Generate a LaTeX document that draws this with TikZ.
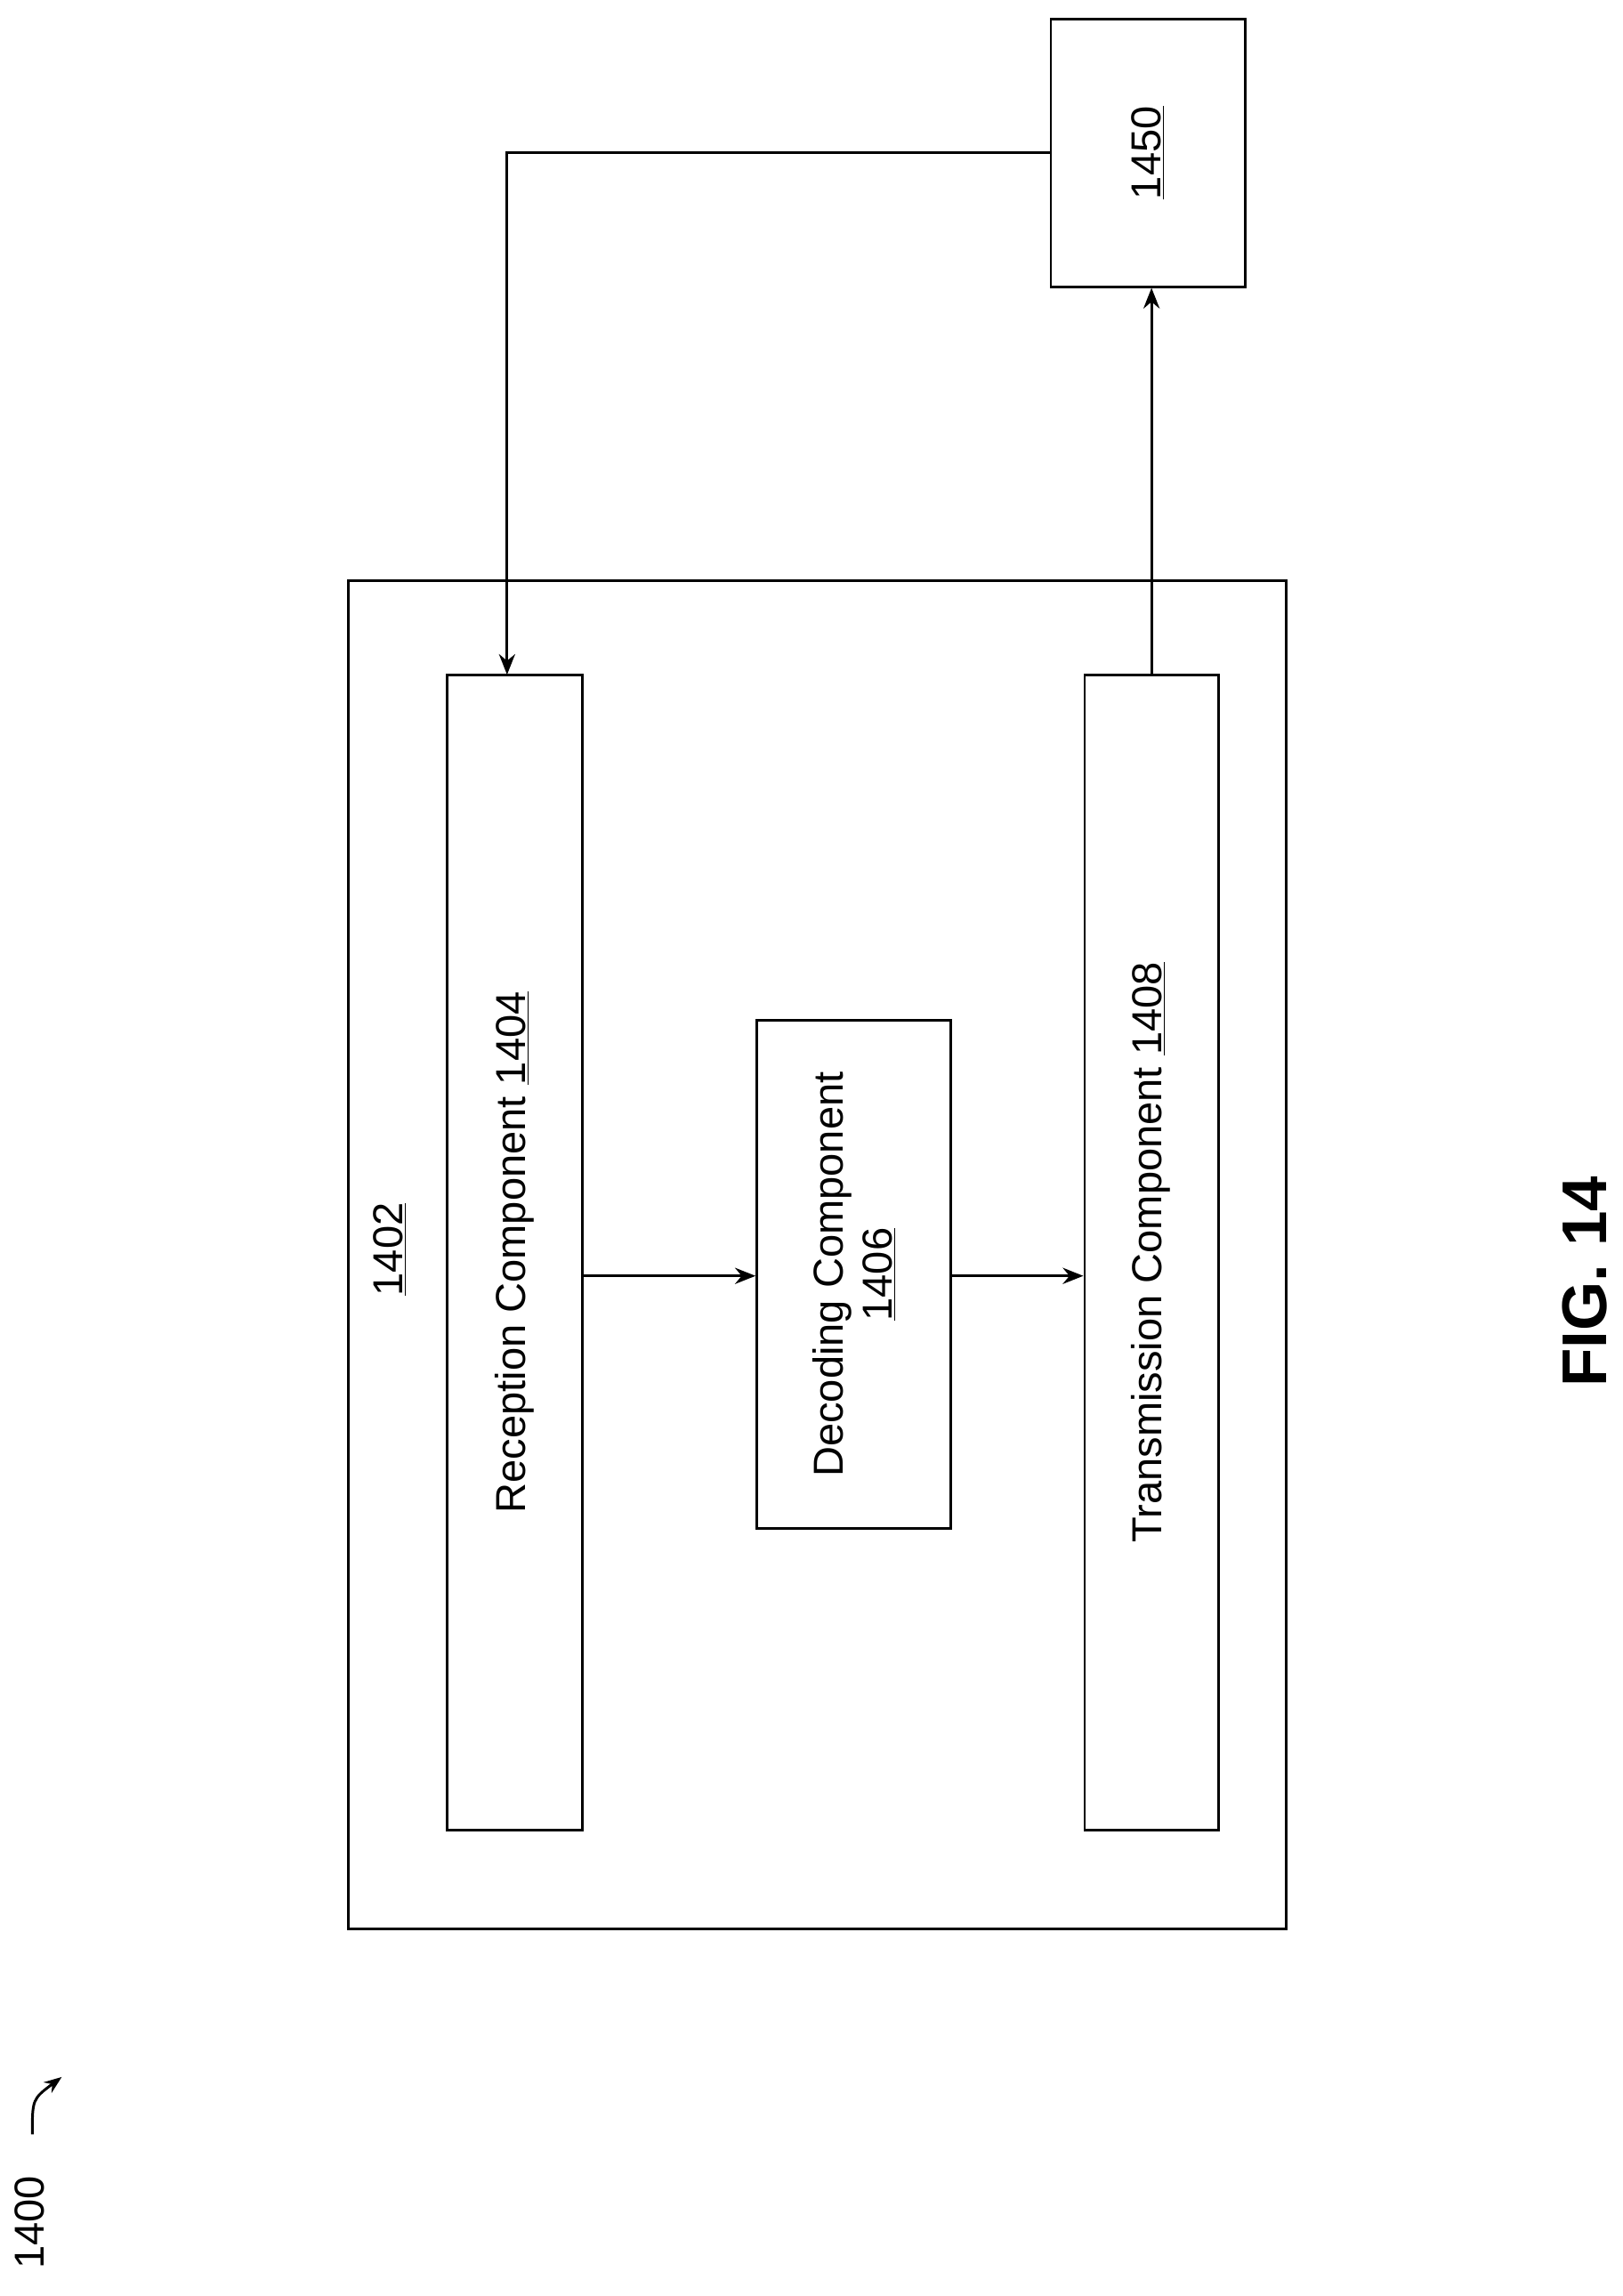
\documentclass[tikz,border=0pt]{standalone}
\usepackage{fontspec}
\setmainfont{Liberation Sans}
\usetikzlibrary{arrows.meta}
\begin{document}
\begin{tikzpicture}[x=1pt,y=-1pt,
 box/.style={draw,line width=1.8pt,inner sep=0},
 lbl/.style={rotate=90,font=\fontsize{28.5}{33}\selectfont},
 arr/.style={line width=1.8pt,-{Stealth[length=14pt,width=11pt]}}]
\useasboundingbox (0,0) rectangle (1104,1562);
\draw[box] (237,395) rectangle (875,1312);
\node[box,minimum width=92pt,minimum height=786pt] (rec) at (350,852) {};
\node[box,minimum width=132pt,minimum height=346pt] (dec) at (581,867) {};
\node[box,minimum width=91pt,minimum height=786pt] (tra) at (783.5,852) {};
\node[box,minimum width=132pt,minimum height=182pt] (ext) at (781,104) {};
\node[lbl] (l1402) at (265,850) {\underline{1402}};
\node[lbl] (lrec) at (350,852) {Reception Component \underline{1404}};
\node[lbl,align=center] (ldec) at (581,867) {Decoding Component\\\underline{1406}};
\node[lbl] (ltra) at (783,852) {Transmission Component \underline{1408}};
\node[lbl] (lext) at (781,104) {\underline{1450}};
\node[rotate=90,font=\bfseries\fontsize{43}{50}\selectfont] (fig) at (1078,872) {FIG. 14};
\node[lbl] (l1400) at (20,1512) {1400};
\coordinate (c1) at (22,1452);
\coordinate (c2) at (42,1413);
\draw[line width=1.8pt,-{Stealth[length=12pt,width=9pt]}] (c1) .. controls (22,1428) .. (c2);
\draw[arr] (ext.west |- 0,104) -| (345,459);
\draw[arr] (tra.north) -- (ext.south -| tra.north);
\draw[arr] (rec.east |- 0,868) -- (dec.west |- 0,868);
\draw[arr] (dec.east |- 0,868) -- (tra.west |- 0,868);
\end{tikzpicture}
\end{document}
